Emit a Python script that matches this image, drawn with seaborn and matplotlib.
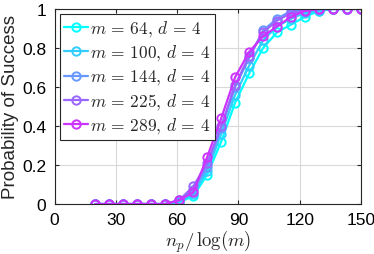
import numpy as np
import pandas as pd
import matplotlib
matplotlib.use("Agg")
import matplotlib.pyplot as plt
import seaborn as sns

# Data
x_vals = [20, 26.8, 33.7, 40.5, 47.4, 54.2, 61.1, 67.9, 74.7, 81.6,
          88.4, 95.3, 102.1, 108.9, 115.8, 122.6, 129.5, 136.3, 143.2, 150]
m_values = [64, 100, 144, 225, 289]
p_m64 = [0, 0, 0, 0, 0, 0, 0.01, 0.04, 0.15, 0.32, 0.52, 0.67, 0.80, 0.88, 0.92, 0.96, 0.99, 1, 1, 1]
p_m100 = [0, 0, 0, 0, 0, 0, 0.01, 0.05, 0.17, 0.36, 0.56, 0.71, 0.84, 0.91, 0.95, 0.98, 0.99, 1, 1, 1]
p_m144 = [0, 0, 0, 0, 0, 0, 0.02, 0.07, 0.19, 0.39, 0.60, 0.75, 0.89, 0.95, 0.99, 0.99, 1, 1, 1, 1]
p_m225 = [0, 0, 0, 0, 0, 0, 0.02, 0.09, 0.21, 0.40, 0.61, 0.76, 0.88, 0.94, 0.98, 0.99, 1, 1, 1, 1]
p_m289 = [0, 0, 0, 0, 0, 0, 0.02, 0.06, 0.24, 0.44, 0.65, 0.78, 0.86, 0.91, 0.96, 0.99, 1, 1, 1, 1]
colors = ["#00ffff", "#33ccff", "#6699ff", "#9966ff", "#cc33ff"]

series = [p_m64, p_m100, p_m144, p_m225, p_m289]

sns.set_style("ticks")
plt.rcParams["font.family"] = ["Liberation Sans", "DejaVu Sans"]
plt.rcParams["mathtext.fontset"] = "cm"

fig = plt.figure(figsize=(3.74, 2.55), dpi=100)
ax = fig.add_axes([0.146, 0.196, 0.819, 0.765])

for m, p, c in zip(m_values, series, colors):
    df = pd.DataFrame({"x": x_vals, "p": p})
    sns.lineplot(data=df, x="x", y="p", ax=ax, color=c, linewidth=1.6,
                 marker="o", markersize=6, markerfacecolor="none",
                 markeredgecolor=c, markeredgewidth=1.4,
                 label=rf"$m\,=\,{m},\,d\,=\,4$")

ax.set_xlim(0, 150)
ax.set_ylim(0, 1)
ax.set_xticks([0, 30, 60, 90, 120, 150])
ax.set_yticks([0, 0.2, 0.4, 0.6, 0.8, 1])
ax.set_yticklabels(["0", "0.2", "0.4", "0.6", "0.8", "1"])
ax.grid(True, color="#d9d9d9", linewidth=0.8)
ax.set_axisbelow(True)
for s in ax.spines.values():
    s.set_color("#262626")
    s.set_linewidth(0.8)
ax.tick_params(direction="in", length=3, labelsize=12.5, colors="#262626",
               top=True, right=True, pad=6)
ax.tick_params(labelcolor="black")

ax.set_xlabel(r"$n_p/\,\log(m)$", fontsize=13.5, labelpad=0)
ax.set_ylabel("Probability of Success", fontsize=13.5, labelpad=2)

leg = ax.legend(loc="upper left", fontsize=12.5, handlelength=1.4,
                handletextpad=0.1, borderpad=0.25, labelspacing=0.25,
                borderaxespad=0.3, fancybox=False, framealpha=1,
                edgecolor="#262626")
leg.get_frame().set_linewidth(0.8)

fig.savefig("out.png", dpi=100)
